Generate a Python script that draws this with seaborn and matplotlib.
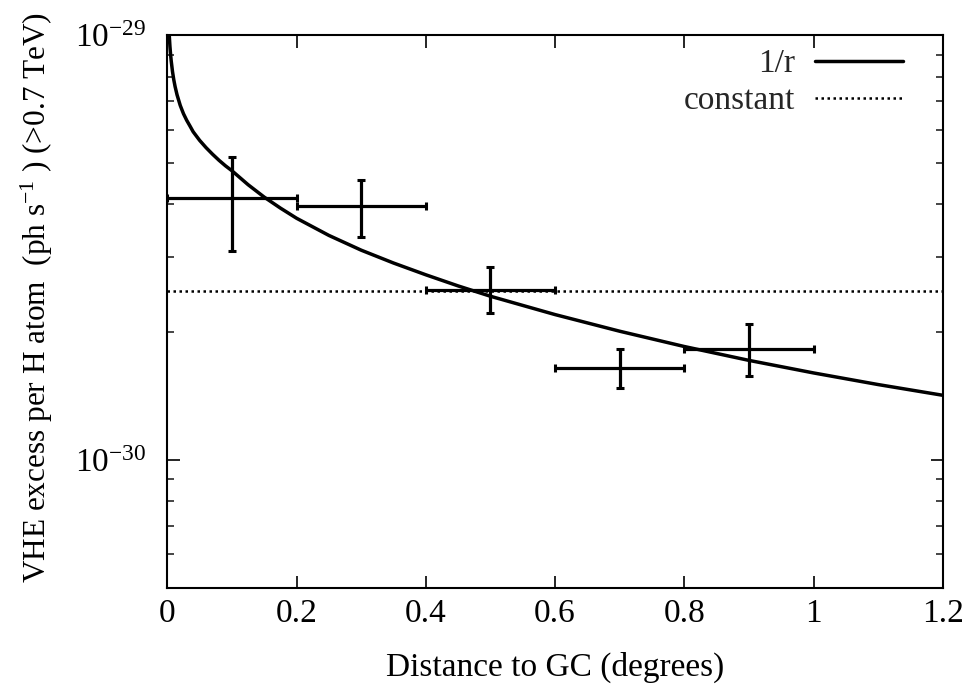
import matplotlib
matplotlib.use("Agg")
import numpy as np
import pandas as pd
import matplotlib.pyplot as plt
import seaborn as sns
from matplotlib.ticker import FixedLocator, NullFormatter

# ---- data (values in units of 1e-30 ph s^-1 per H atom) ----
curve_x = [0.003, 0.004, 0.005, 0.006, 0.008, 0.01, 0.012, 0.015, 0.02, 0.025,
           0.03, 0.035, 0.04, 0.05, 0.06, 0.07, 0.08, 0.09, 0.1, 0.125, 0.15,
           0.175, 0.2, 0.25, 0.3, 0.35, 0.4, 0.45, 0.5, 0.6, 0.7, 0.8, 0.9,
           1.0, 1.1, 1.2]
curve_y = [10.0, 9.44, 9.03, 8.71, 8.22, 7.86, 7.58, 7.25, 6.84, 6.54,
           6.31, 6.12, 5.93, 5.66, 5.44, 5.25, 5.08, 4.93, 4.80, 4.45, 4.16,
           3.92, 3.71, 3.38, 3.12, 2.91, 2.73, 2.57, 2.43, 2.20, 2.01, 1.85, 1.716,
           1.603, 1.505, 1.42]
const_x = [0.0, 1.2]
const_y = [2.50, 2.50]

point_x = [0.1, 0.3, 0.5, 0.7, 0.9]
point_y = [4.13, 3.96, 2.51, 1.65, 1.83]
point_lo = [3.11, 3.36, 2.22, 1.48, 1.58]
point_hi = [5.18, 4.57, 2.85, 1.83, 2.09]
point_xerr = [0.1, 0.1, 0.1, 0.1, 0.1]

scale = 1e-30
x_ticks = [0, 0.2, 0.4, 0.6, 0.8, 1.0, 1.2]
x_tick_labels = ["0", "0.2", "0.4", "0.6", "0.8", "1", "1.2"]
y_ticks = [1e-30, 1e-29]
y_tick_labels = ["10$^{-30}$", "10$^{-29}$"]
y_minor = [5e-31, 6e-31, 7e-31, 8e-31, 9e-31, 2e-30, 3e-30, 4e-30, 5e-30,
           6e-30, 7e-30, 8e-30, 9e-30]

x_label = "Distance to GC (degrees)"
y_label = "VHE excess per H atom  (ph s$^{-1}$ ) (>0.7 TeV)"

curve_df = pd.DataFrame({"x": curve_x, "y": np.array(curve_y) * scale})
const_df = pd.DataFrame({"x": const_x, "y": np.array(const_y) * scale})

sns.set_theme(style="ticks")
plt.rcParams["font.family"] = ["Liberation Serif", "DejaVu Serif"]
plt.rcParams["mathtext.fontset"] = "custom"
plt.rcParams["mathtext.rm"] = "Liberation Serif"
plt.rcParams["mathtext.it"] = "Liberation Serif:italic"
plt.rcParams["mathtext.bf"] = "Liberation Serif:bold"

fig = plt.figure(figsize=(9.74, 6.94), dpi=100)
ax = fig.add_axes([0.1718, 0.1532, 0.7961, 0.7957])

sns.lineplot(data=curve_df, x="x", y="y", ax=ax, color="black", lw=2.5,
             label="1/r", sort=False)
sns.lineplot(data=const_df, x="x", y="y", ax=ax, color="black", lw=1.8,
             linestyle=(0, (1, 1.4)), label="constant", sort=False)

py = np.array(point_y) * scale
yerr = np.vstack([py - np.array(point_lo) * scale, np.array(point_hi) * scale - py])
ax.errorbar(point_x, py, xerr=point_xerr, yerr=yerr, fmt="none", ecolor="black",
            elinewidth=2.3, capsize=2.9, capthick=2.2)

ax.set_yscale("log")
ax.set_xlim(0, 1.2)
ax.set_ylim(5e-31, 1e-29)

ax.xaxis.set_major_locator(FixedLocator(x_ticks))
ax.set_xticklabels(x_tick_labels)
ax.yaxis.set_major_locator(FixedLocator(y_ticks))
ax.set_yticklabels(y_tick_labels)
ax.yaxis.set_minor_locator(FixedLocator(y_minor))
ax.yaxis.set_minor_formatter(NullFormatter())
ax.xaxis.set_minor_locator(FixedLocator([]))

ax.tick_params(axis="both", which="major", direction="in", length=9, width=1.2,
               top=True, right=True, labelsize=24, colors="black")
ax.tick_params(axis="both", which="minor", direction="in", length=5, width=1.2,
               top=True, right=True)
ax.tick_params(axis="x", which="major", pad=8)
ax.tick_params(axis="y", which="major", pad=15)

for sp in ax.spines.values():
    sp.set_visible(True)
    sp.set_linewidth(1.5)
    sp.set_color("black")

ax.set_xlabel(x_label, fontsize=24, labelpad=16, color="black")
ax.set_ylabel(y_label, fontsize=22.5, color="black")
ax.yaxis.set_label_coords(-0.145, 0.525)

leg = ax.legend(loc="upper right", bbox_to_anchor=(0.9488, 0.976), frameon=False,
                markerfirst=False, fontsize=24, handlelength=2.64,
                handletextpad=0.6, labelspacing=0.2, borderpad=0,
                borderaxespad=0)

fig.savefig("out.png", dpi=100, facecolor="white")
